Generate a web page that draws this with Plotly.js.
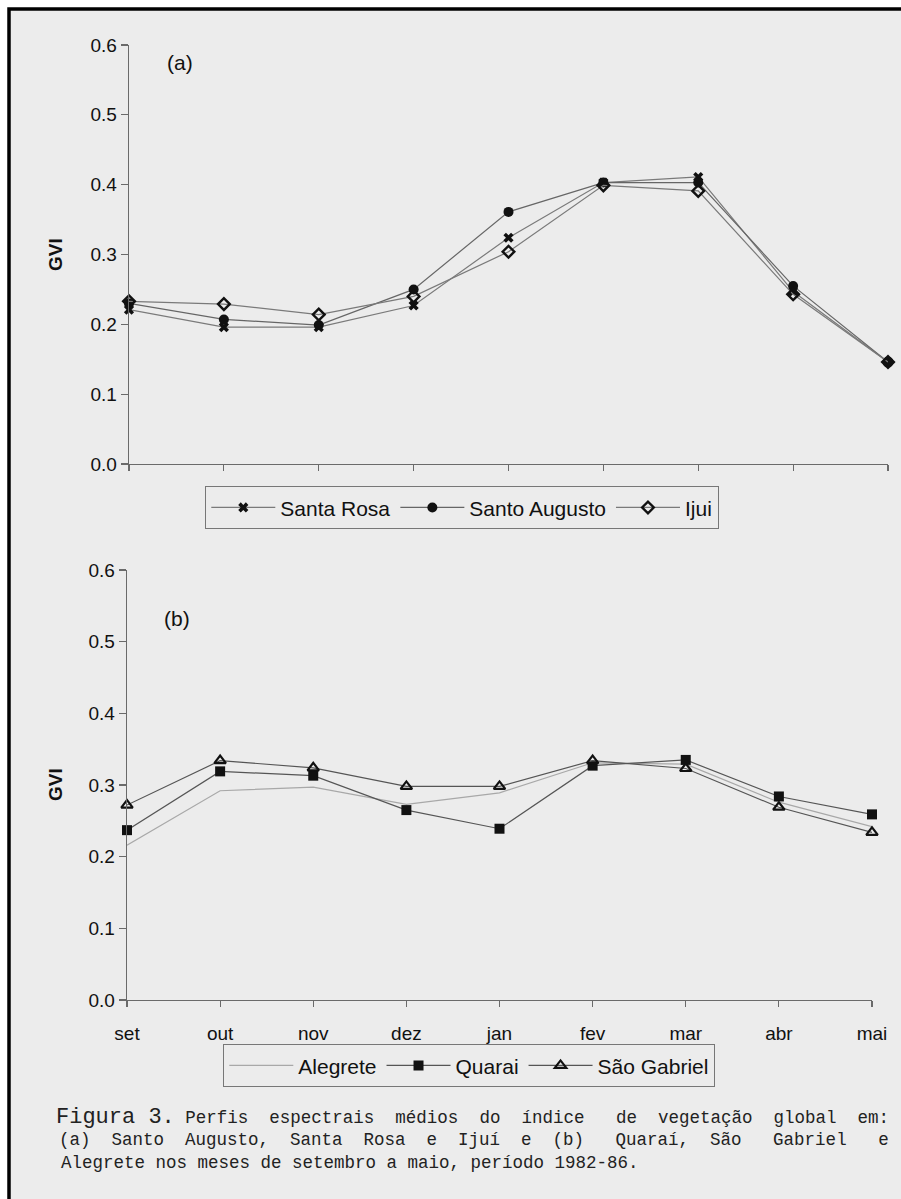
<!DOCTYPE html>
<html>
<head>
<meta charset="utf-8">
<script src="https://cdn.plot.ly/plotly-3.0.1.min.js"></script>
<style>html,body{margin:0;padding:0;background:#fff;}#chart{width:901px;height:1199px;}</style>
</head>
<body>
<div id="chart"></div>
<script>
// ---- data ----
const months = ['set', 'out', 'nov', 'dez', 'jan', 'fev', 'mar', 'abr', 'mai'];
// panel (a)
const santaRosa    = [0.221, 0.196, 0.196, 0.227, 0.324, 0.403, 0.411, 0.247, 0.146];
const santoAugusto = [0.230, 0.207, 0.199, 0.250, 0.361, 0.403, 0.403, 0.255, 0.146];
const ijui         = [0.233, 0.229, 0.214, 0.240, 0.304, 0.399, 0.391, 0.243, 0.146];
// panel (b)
const alegrete     = [0.216, 0.292, 0.297, 0.273, 0.289, 0.331, 0.329, 0.276, 0.242];
const quarai       = [0.237, 0.319, 0.313, 0.265, 0.239, 0.327, 0.335, 0.284, 0.259];
const saoGabriel   = [0.272, 0.334, 0.324, 0.298, 0.298, 0.334, 0.323, 0.269, 0.234];
const yTicks = [0, 0.1, 0.2, 0.3, 0.4, 0.5, 0.6];

const W = 901, H = 1199;
const px = x => x / W;
const py = y => 1 - y / H;
const FONT = 'Liberation Sans, Arial, sans-serif';
const MONO = 'Liberation Mono, Courier New, monospace';
const NB = '\u00a0';

const idx = months.map((m, i) => i);

function line(name, y, xa, ya, leg, sym, lineColor, size, lw) {
  const t = {
    type: 'scatter', mode: sym ? 'lines+markers' : 'lines', name: name,
    x: months, y: y, xaxis: xa, yaxis: ya, legend: leg,
    line: {color: lineColor, width: 1.2},
    cliponaxis: false, hoverinfo: 'skip'
  };
  if (sym) t.marker = {symbol: sym, size: size, color: '#111', line: {color: '#111', width: lw}};
  return t;
}

const traces = [
  line('Santa Rosa', santaRosa, 'x', 'y', 'legend', 'x', '#7a7a7a', 9, 0),
  line('Santo Augusto', santoAugusto, 'x', 'y', 'legend', 'circle', '#666', 10, 0),
  line('Ijui', ijui, 'x', 'y', 'legend', 'diamond-open', '#7a7a7a', 9, 2.4),
  line('Alegrete', alegrete, 'x2', 'y2', 'legend2', null, '#a8a8a8', 0, 0),
  line('Quarai', quarai, 'x2', 'y2', 'legend2', 'square', '#555', 10, 0),
  line('São Gabriel', saoGabriel, 'x2', 'y2', 'legend2', 'triangle-up-open', '#555', 10, 2.2)
];

const axColor = '#6a6a6a';
function xAxis(d0, d1, anchor, labels) {
  return {
    domain: [px(d0), px(d1)], anchor: anchor, type: 'category',
    categoryorder: 'array', categoryarray: months, range: [0, months.length - 1],
    showline: true, linecolor: axColor, linewidth: 1.4, showgrid: false, zeroline: false,
    ticks: 'outside', ticklen: 6, tickcolor: axColor, tickwidth: 1.2,
    showticklabels: labels, ticklabelstandoff: 10,
    tickfont: {family: FONT, size: 19, color: '#111'}, fixedrange: true
  };
}
function xOver(overlay, anchor) {
  return {
    overlaying: overlay, anchor: anchor, type: 'linear', range: [0, months.length - 1],
    tickmode: 'array', tickvals: idx, showticklabels: false,
    ticks: 'inside', ticklen: 5, tickcolor: axColor, tickwidth: 1.2,
    showline: false, showgrid: false, zeroline: false, fixedrange: true
  };
}
function yAxis(top, bottom, anchor) {
  return {
    domain: [py(bottom), py(top)], anchor: anchor, range: [0, 0.6],
    tickmode: 'array', tickvals: yTicks, ticktext: yTicks.map(v => v.toFixed(1)),
    showline: true, linecolor: axColor, linewidth: 1.4, showgrid: false, zeroline: false,
    ticks: 'outside', ticklen: 7, tickcolor: axColor, tickwidth: 1.2,
    tickfont: {family: FONT, size: 19, color: '#111'}, fixedrange: true
  };
}
function legend(x, y) {
  return {
    x: px(x), y: py(y), xanchor: 'left', yanchor: 'top', orientation: 'h',
    bgcolor: 'rgba(0,0,0,0)', bordercolor: '#777', borderwidth: 1.3,
    font: {family: FONT, size: 21, color: '#111'}, itemwidth: 64,
    traceorder: 'normal'
  };
}

const cap1 = 'Perfis' + NB + NB + 'espectrais' + NB + NB + 'médios' + NB + NB + 'do' + NB + NB + 'índice' + NB + NB + NB + 'de' + NB + NB + 'vegetação' + NB + NB + 'global' + NB + NB + 'em:';
const cap2 = '(a)' + NB + NB + 'Santo' + NB + NB + 'Augusto,' + NB + NB + 'Santa' + NB + NB + 'Rosa' + NB + NB + 'e' + NB + NB + 'Ijuí' + NB + NB + 'e' + NB + NB + '(b)' + NB + NB + NB + 'Quaraí,' + NB + NB + 'São' + NB + NB + NB + 'Gabriel' + NB + NB + NB + 'e';
const cap3 = 'Alegrete nos meses de setembro a maio, período 1982-86.';

const layout = {
  width: W, height: H, margin: {l: 0, r: 0, t: 0, b: 0},
  paper_bgcolor: '#ffffff', plot_bgcolor: 'rgba(0,0,0,0)',
  showlegend: true,
  xaxis: xAxis(129, 888, 'y', false),
  yaxis: yAxis(45, 464, 'x'),
  xaxis2: xAxis(127, 872, 'y2', true),
  yaxis2: yAxis(570, 1000, 'x2'),
  xaxis3: xOver('x', 'y'),
  xaxis4: xOver('x2', 'y2'),
  legend: legend(205, 486),
  legend2: legend(223, 1044),
  shapes: [
    {type: 'rect', xref: 'paper', yref: 'paper', x0: px(9), x1: px(W + 20), y0: py(H + 20), y1: py(9),
     line: {color: '#000', width: 3.5}, fillcolor: '#ececec', layer: 'below'}
  ],
  annotations: [
    {text: '(a)', xref: 'paper', yref: 'paper', x: px(165), y: py(63), xanchor: 'left', yanchor: 'middle', showarrow: false, font: {family: FONT, size: 21, color: '#111'}},
    {text: '(b)', xref: 'paper', yref: 'paper', x: px(162), y: py(618), xanchor: 'left', yanchor: 'middle', showarrow: false, font: {family: FONT, size: 21, color: '#111'}},
    {text: '<b>GVI</b>', xref: 'paper', yref: 'paper', x: px(55), y: py(255), textangle: -90, xanchor: 'center', yanchor: 'middle', showarrow: false, font: {family: FONT, size: 19, color: '#111'}},
    {text: '<b>GVI</b>', xref: 'paper', yref: 'paper', x: px(55), y: py(785), textangle: -90, xanchor: 'center', yanchor: 'middle', showarrow: false, font: {family: FONT, size: 19, color: '#111'}},
    {text: '<span style="font-size:22px">Figura 3.</span>' + NB + cap1, xref: 'paper', yref: 'paper', x: px(54), y: py(1117), xanchor: 'left', yanchor: 'middle', showarrow: false, font: {family: MONO, size: 17.5, color: '#222'}},
    {text: cap2, xref: 'paper', yref: 'paper', x: px(57), y: py(1140), xanchor: 'left', yanchor: 'middle', showarrow: false, font: {family: MONO, size: 17.5, color: '#222'}},
    {text: cap3, xref: 'paper', yref: 'paper', x: px(59), y: py(1163), xanchor: 'left', yanchor: 'middle', showarrow: false, font: {family: MONO, size: 17.5, color: '#222'}}
  ]
};

Plotly.newPlot('chart', traces, layout, {staticPlot: true, displayModeBar: false});
</script>
</body>
</html>
